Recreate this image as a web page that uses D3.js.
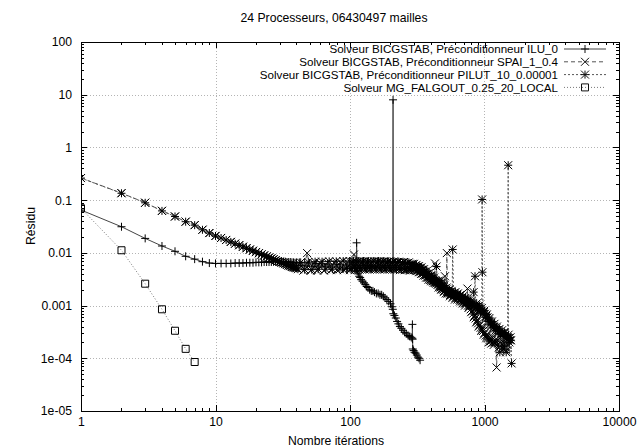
<!DOCTYPE html>
<html><head><meta charset="utf-8">
<script src="https://cdn.jsdelivr.net/npm/d3@7"></script>
<style>
body{margin:0;background:#fff;}
text{font-family:"Liberation Sans",Arial,Helvetica,sans-serif;fill:#000;}
</style>
</head><body>
<svg id="chart" width="643" height="448"></svg>
<script>
// ---------------- DATA ----------------
const chartTitle = "24 Processeurs, 06430497 mailles";
const xAxisTitle = "Nombre itérations";
const yAxisTitle = "Résidu";
const seriesNames = [
  "Solveur BICGSTAB, Préconditionneur ILU_0",
  "Solveur BICGSTAB, Préconditionneur SPAI_1_0.4",
  "Solveur BICGSTAB, Préconditionneur PILUT_10_0.00001",
  "Solveur MG_FALGOUT_0.25_20_LOCAL"
];
const xTickValues = [1, 10, 100, 1000, 10000];
const xTickLabels = ["1", "10", "100", "1000", "10000"];
const yTickValues = [1e-5, 1e-4, 1e-3, 1e-2, 1e-1, 1, 10, 100];
const yTickLabels = ["1e-05", "1e-04", "0.001", "0.01", "0.1", "1", "10", "100"];

// residuals for iterations 1..40 (index + 1 = iteration)
const iluHead = [0.065,0.0313,0.0188,0.0135,0.0107,0.0086,0.0076,0.0068,0.0064,0.0063,
  0.0063,0.0063,0.0063,0.0064,0.0064,0.0064,0.0065,0.0065,0.0065,0.0066,
  0.0066,0.0066,0.0067,0.0067,0.0067,0.0067,0.0068,0.0068,0.0068,0.0068,
  0.0068,0.0068,0.0068,0.0067,0.0067,0.0067,0.0066,0.0066,0.0065,0.0065];
const spaiHead = [0.263,0.136,0.0895,0.0628,0.0489,0.0391,0.0337,0.0275,0.0237,0.021,
  0.0192,0.0176,0.0162,0.015,0.014,0.0131,0.0123,0.0116,0.011,0.0104,
  0.0099,0.0094,0.009,0.0086,0.0082,0.0079,0.0076,0.0073,0.0070,0.0068,
  0.0066,0.0064,0.0062,0.0060,0.0058,0.0057,0.0055,0.0054,0.0053,0.0052];
const pilutHead = [0.262,0.135,0.089,0.0625,0.049,0.039,0.0335,0.0274,0.0238,0.0209,
  0.0191,0.0175,0.0161,0.0149,0.0139,0.013,0.0122,0.0115,0.0109,0.0103,
  0.0098,0.0093,0.0089,0.0085,0.0081,0.0078,0.0075,0.0072,0.0069,0.0067,
  0.0065,0.0063,0.0061,0.0059,0.0057,0.0056,0.0054,0.0053,0.0052,0.0051];

// later iterations: [iteration, residual]
const iluTail = [[42,0.0066],[44,0.0057],[46,0.0065],[48,0.0056],[50,0.0064],[53,0.0055],[56,0.0063],[59,0.0054],
  [62,0.0062],[65,0.0054],[68,0.0061],[72,0.0053],[76,0.0061],[80,0.0053],[84,0.0060],[88,0.0052],[92,0.0059],
  [96,0.0052],[100,0.0058],[104,0.0051],[108,0.0056],[111,0.0050],[112,0.0155],[113,0.0045],[115,0.0040],
  [117,0.0036],[119,0.0034],[121,0.0031],[124,0.0029],[127,0.0027],[130,0.0025],[133,0.0023],[136,0.0022],
  [140,0.0020],[144,0.0019],[148,0.0019],[152,0.0018],[157,0.0017],[162,0.0017],[167,0.0016],[172,0.0016],
  [177,0.0015],[182,0.0014],[188,0.0013],[194,0.0012],[200,0.00108],[205,0.00095],[208,0.00085],[209,8],
  [210,0.0007],[214,0.00065],[219,0.00058],[224,0.0005],[229,0.00045],[235,0.0004],[241,0.00037],[248,0.00034],
  [255,0.00031],[262,0.00029],[270,0.00027],[278,0.00026],[285,0.00025],[290,0.00024],[291,0.00044],[292,0.00023],
  [293,0.00015],[297,0.00014],[302,0.00013],[308,0.000125],[314,0.000115],[320,0.000105],[326,0.0001],[332,0.000092]];

const spaiTail = [[42,0.0062],[45,0.0046],[48,0.0099],[51,0.0046],[54,0.0063],[57,0.0046],[60,0.0064],[64,0.0046],
  [68,0.0065],[72,0.0047],[76,0.0065],[80,0.0047],[85,0.0066],[90,0.0047],[95,0.0066],[100,0.0047],[104,0.0066],
  [107,0.0093],[109,0.0047],[113,0.0067],[118,0.0048],[123,0.0067],[129,0.0048],[134,0.0067],[140,0.0048],
  [146,0.0067],[153,0.0048],[160,0.0067],[167,0.0048],[174,0.0067],[181,0.0048],[189,0.0067],[198,0.0048],
  [206,0.0066],[215,0.0048],[225,0.0066],[235,0.0047],[245,0.0065],[256,0.0047],[267,0.0064],[279,0.0046],
  [291,0.0062],[304,0.0057],[311,0.0045],[317,0.0055],[324,0.0043],[331,0.0052],[338,0.0040],[345,0.0048],
  [352,0.0037],[360,0.0044],[368,0.0034],[376,0.0040],[384,0.0031],[393,0.0036],[401,0.0029],[410,0.0033],
  [419,0.0027],[428,0.0063],[437,0.0026],[447,0.0029],[456,0.0022],[466,0.0026],[476,0.0020],[487,0.0023],
  [497,0.0018],[508,0.0036],[515,0.0017],[520,0.0020],[525,0.0099],[530,0.0017],[541,0.0019],[553,0.0015],
  [565,0.0018],[578,0.0014],[590,0.0017],[603,0.0013],[616,0.0016],[629,0.0013],[643,0.0015],[657,0.0012],
  [671,0.0014],[686,0.0011],[700,0.0013],[716,0.0010],[731,0.0012],[747,0.0021],[760,0.0009],[780,0.0010],
  [797,0.00075],[814,0.0008],[832,0.0006],[850,0.00066],[868,0.00048],[887,0.00054],[906,0.0004],[926,0.00044],
  [946,0.00033],[966,0.00038],[987,0.00028],[1009,0.00031],[1031,0.00024],[1053,0.00028],[1076,0.0002],
  [1099,0.00024],[1123,0.00019],[1147,0.00025],[1172,0.00018],[1197,0.00022],[1230,0.000067],[1250,0.00022],
  [1277,0.00016],[1304,0.0002],[1332,0.00015],[1361,0.00021],[1391,0.00015],[1421,0.00019],[1452,0.00014],[1483,0.00018]];
const spaiFill = [[102,0.0050],[106,0.0063],[111,0.0060],[116,0.0050],[120,0.0064],[126,0.0050],[131,0.0064],
  [137,0.0050],[143,0.0064],[150,0.0050],[156,0.0064],[163,0.0050],[170,0.0064],[178,0.0050],[185,0.0064],
  [194,0.0050],[202,0.0064],[210,0.0050],[220,0.0064],[230,0.0050],[240,0.0063],[250,0.0049],[261,0.0062],
  [273,0.0048],[285,0.0060],[297,0.0047],[307,0.0050],[314,0.0053],[321,0.0047],[328,0.0050],[334,0.0045],
  [341,0.0046],[349,0.0042],[356,0.0042],[364,0.0038],[372,0.0038],[380,0.0034],[388,0.0034],[397,0.0031],
  [405,0.0031],[414,0.0029],[424,0.0029],[432,0.0028],[442,0.0027],[451,0.0025],[461,0.0024],[471,0.0022],
  [481,0.0021],[492,0.0020],[502,0.0019],[535,0.0018],[547,0.0017],[559,0.0016],[571,0.0016],[584,0.0015],
  [596,0.0015],[609,0.0014],[622,0.0014],[636,0.0014],[650,0.0013],[664,0.0013],[678,0.0012],[693,0.0012],
  [708,0.0011],[723,0.0011],[739,0.0011],[753,0.0010],[770,0.00095],[789,0.00085],[805,0.00078],[823,0.0007],
  [841,0.00063],[859,0.00057],[877,0.0005],[896,0.00046],[916,0.00042],[936,0.00038],[956,0.00035],[976,0.00033],
  [998,0.0003],[1020,0.00027],[1042,0.00026],[1064,0.00024],[1087,0.00022],[1111,0.00021],[1135,0.00022],
  [1160,0.0002],[1185,0.0002],[1210,0.0002],[1263,0.00019],[1290,0.00018],[1318,0.00017],[1346,0.00018],
  [1376,0.00017],[1406,0.00017],[1436,0.00016],[1467,0.00016]];

const pilutTail = [[41,0.0049],[43,0.0066],[46,0.0048],[49,0.0067],[52,0.0048],[55,0.0068],[58,0.0049],[62,0.0068],
  [66,0.0049],[70,0.0069],[74,0.0049],[79,0.0069],[84,0.0049],[89,0.0070],[94,0.0050],[99,0.0070],[102,0.0050],
  [106,0.0070],[111,0.0050],[116,0.0070],[121,0.0050],[126,0.0070],[132,0.0050],[137,0.0070],[143,0.0050],
  [150,0.0070],[156,0.0050],[163,0.0070],[171,0.0050],[178,0.0070],[186,0.0050],[194,0.0069],[203,0.0050],
  [212,0.0069],[221,0.0049],[231,0.0068],[241,0.0049],[252,0.0067],[263,0.0048],[274,0.0066],[286,0.0047],
  [299,0.0062],[306,0.0049],[312,0.0059],[319,0.0046],[326,0.0056],[333,0.0043],[340,0.0053],[347,0.0040],
  [355,0.0049],[363,0.0037],[371,0.0045],[379,0.0034],[387,0.0041],[395,0.0031],[404,0.0037],[413,0.0029],
  [422,0.0034],[431,0.0027],[440,0.0055],[450,0.0025],[460,0.0030],[470,0.0023],[480,0.0027],[490,0.0021],
  [501,0.0024],[512,0.0019],[523,0.0022],[534,0.0017],[546,0.0020],[558,0.0016],[570,0.0019],[580,0.0116],
  [595,0.0016],[608,0.0018],[621,0.0015],[634,0.0017],[648,0.0014],[662,0.0016],[677,0.0013],[691,0.0015],
  [706,0.0012],[721,0.0014],[737,0.0012],[753,0.0013],[770,0.0010],[786,0.0012],[803,0.0010],[830,0.0018],
  [850,0.0036],[862,0.0009],[875,0.0011],[894,0.0008],[913,0.0010],[934,0.00075],[955,0.0009],[960,0.103],
  [965,0.0043],[976,0.0007],[997,0.0008],[1019,0.0006],[1041,0.00068],[1064,0.0005],[1087,0.00058],[1111,0.00043],
  [1135,0.0005],[1160,0.00038],[1185,0.00045],[1211,0.00034],[1237,0.0004],[1264,0.0003],[1292,0.00036],
  [1300,0.00013],[1320,0.00028],[1349,0.00034],[1378,0.00026],[1408,0.00031],[1450,0.00013],[1470,0.00024],
  [1500,0.46],[1510,0.00028],[1530,0.0002],[1560,0.00025],[1590,0.00008]];
const pilutFill = [[104,0.0066],[108,0.0053],[113,0.0067],[118,0.0053],[124,0.0067],[129,0.0053],[135,0.0067],
  [140,0.0053],[146,0.0067],[153,0.0053],[160,0.0067],[167,0.0053],[174,0.0067],[182,0.0053],[190,0.0067],
  [198,0.0053],[207,0.0066],[216,0.0053],[226,0.0066],[236,0.0052],[246,0.0065],[257,0.0051],[268,0.0063],
  [280,0.0050],[292,0.0060],[302,0.0055],[309,0.0054],[315,0.0052],[322,0.0051],[329,0.0049],[336,0.0048],
  [343,0.0046],[351,0.0045],[359,0.0043],[367,0.0041],[375,0.0039],[383,0.0037],[391,0.0036],[399,0.0034],
  [408,0.0033],[417,0.0031],[426,0.0030],[435,0.0029],[445,0.0028],[455,0.0027],[465,0.0026],[475,0.0025],
  [485,0.0024],[495,0.0022],[506,0.0021],[517,0.0020],[528,0.0019],[540,0.0018],[552,0.0018],[564,0.0017],
  [575,0.0017],[588,0.0017],[601,0.0016],[614,0.0016],[628,0.0016],[641,0.0015],[655,0.0015],[669,0.0014],
  [684,0.0014],[698,0.0013],[713,0.0013],[729,0.0013],[745,0.0012],[761,0.0012],[778,0.0011],[795,0.0011],
  [812,0.0011],[840,0.0010],[868,0.0010],[884,0.00095],[903,0.0009],[923,0.00085],[944,0.0008],[987,0.00075],
  [1008,0.0007],[1030,0.00064],[1052,0.0006],[1075,0.00054],[1099,0.0005],[1123,0.00047],[1147,0.00043],
  [1172,0.0004],[1198,0.00038],[1224,0.00037],[1250,0.00034],[1278,0.00032],[1335,0.0003],[1363,0.0003],
  [1393,0.00029],[1424,0.00027],[1485,0.00025],[1520,0.00024],[1545,0.00022],[1575,0.00022]];

const mgIter = [1,2,3,4,5,6,7];
const mgVal = [0.07,0.0112,0.0026,0.00085,0.000333,0.000151,0.000085];

// ---------------- CHART ----------------
const plot = {left: 81, right: 619, top: 42, bottom: 411};
const svg = d3.select("#chart");
const x = d3.scaleLog().domain([1, 10000]).range([plot.left, plot.right]);
const y = d3.scaleLog().domain([1e-5, 100]).range([plot.bottom, plot.top]);
const FS = "12.2px";
const LFS = "11.6px";

// grid (dotted)
const gridG = svg.append("g").attr("stroke", "#b4b4b4").attr("stroke-dasharray", "1,2").attr("shape-rendering", "crispEdges");
xTickValues.slice(1, -1).forEach(v => {
  gridG.append("line").attr("x1", Math.round(x(v)) + 0.5).attr("x2", Math.round(x(v)) + 0.5)
    .attr("y1", plot.top).attr("y2", plot.bottom);
});
yTickValues.slice(1, -1).forEach(v => {
  gridG.append("line").attr("y1", Math.round(y(v)) + 0.5).attr("y2", Math.round(y(v)) + 0.5)
    .attr("x1", plot.left).attr("x2", plot.right);
});

function minorVals(dom) {
  const out = [];
  for (let d = dom[0]; d < dom[1]; d *= 10) for (let k = 2; k <= 9; k++) out.push(d * k);
  return out;
}
const axG = svg.append("g").attr("shape-rendering", "crispEdges");
function addAxis(axisGen, tx, ty) {
  const g = axG.append("g").attr("transform", `translate(${tx},${ty})`).call(axisGen);
  g.select(".domain").remove();
  g.selectAll("line").attr("stroke", "#000");
  g.selectAll("text").remove();
}
addAxis(d3.axisBottom(x).tickValues(xTickValues).tickSize(-6).tickFormat(""), 0, plot.bottom);
addAxis(d3.axisBottom(x).tickValues(minorVals([1, 10000])).tickSize(-3).tickFormat(""), 0, plot.bottom);
addAxis(d3.axisTop(x).tickValues(xTickValues).tickSize(-6).tickFormat(""), 0, plot.top);
addAxis(d3.axisTop(x).tickValues(minorVals([1, 10000])).tickSize(-3).tickFormat(""), 0, plot.top);
addAxis(d3.axisLeft(y).tickValues(yTickValues).tickSize(-6).tickFormat(""), plot.left, 0);
addAxis(d3.axisLeft(y).tickValues(minorVals([1e-5, 100])).tickSize(-3).tickFormat(""), plot.left, 0);
addAxis(d3.axisRight(y).tickValues(yTickValues).tickSize(-6).tickFormat(""), plot.right, 0);
addAxis(d3.axisRight(y).tickValues(minorVals([1e-5, 100])).tickSize(-3).tickFormat(""), plot.right, 0);

// tick labels
const xLab = svg.append("g").attr("transform", `translate(0,${plot.bottom})`)
  .call(d3.axisBottom(x).tickValues(xTickValues).tickSize(0).tickPadding(6)
    .tickFormat((d, i) => xTickLabels[i]));
xLab.select(".domain").remove();
xLab.selectAll("text").attr("font-size", FS).attr("font-family", null).attr("fill", "#000");
const yLab = svg.append("g").attr("transform", `translate(${plot.left},0)`)
  .call(d3.axisLeft(y).tickValues(yTickValues).tickSize(0).tickPadding(9)
    .tickFormat((d, i) => yTickLabels[i]));
yLab.select(".domain").remove();
yLab.selectAll("text").attr("font-size", FS).attr("font-family", null).attr("fill", "#000");

// border
svg.append("rect").attr("x", plot.left + 0.5).attr("y", plot.top + 0.5)
  .attr("width", plot.right - plot.left).attr("height", plot.bottom - plot.top)
  .attr("fill", "none").attr("stroke", "#000").attr("shape-rendering", "crispEdges");

// titles
svg.append("text").attr("x", 334).attr("y", 22).attr("text-anchor", "middle").attr("font-size", FS).text(chartTitle);
svg.append("text").attr("x", 336).attr("y", 445).attr("text-anchor", "middle").attr("font-size", FS).text(xAxisTitle);
svg.append("text").attr("transform", "translate(35,226) rotate(-90)").attr("text-anchor", "middle").attr("font-size", FS).text(yAxisTitle);

// markers
const R = 4, RS = 3.5;
const markerPaths = {
  plus: `M${-R},0H${R}M0,${-R}V${R}`,
  cross: `M${-R},${-R}L${R},${R}M${-R},${R}L${R},${-R}`,
  star: `M${-R},0H${R}M0,${-R}V${R}M${-R},${-R}L${R},${R}M${-R},${R}L${R},${-R}`,
  square: `M${-RS},${-RS}H${RS}V${RS}H${-RS}Z`
};
const headPts = arr => arr.map((v, i) => [i + 1, v]);
const byIter = (a, b) => a[0] - b[0];
const series = [
  {name: seriesNames[0], pts: headPts(iluHead).concat(iluTail), dash: null, lineColor: "#444", marker: "plus"},
  {name: seriesNames[1], pts: headPts(spaiHead).concat(spaiTail, spaiFill).sort(byIter), dash: "4,3", lineColor: "#555", marker: "cross"},
  {name: seriesNames[2], pts: headPts(pilutHead).concat(pilutTail, pilutFill).sort(byIter), dash: "2,2", lineColor: "#555", marker: "star"},
  {name: seriesNames[3], pts: mgIter.map((v, i) => [v, mgVal[i]]), dash: "1,2", lineColor: "#777", marker: "square"}
];
const line = d3.line().x(d => x(d[0])).y(d => y(d[1]));
svg.append("clipPath").attr("id", "pc").append("rect")
  .attr("x", plot.left).attr("y", plot.top).attr("width", plot.right - plot.left).attr("height", plot.bottom - plot.top);
const dataG = svg.append("g").attr("clip-path", "url(#pc)");
series.forEach(s => {
  dataG.append("path").datum(s.pts).attr("d", line).attr("fill", "none")
    .attr("stroke", s.lineColor).attr("stroke-width", 1).attr("stroke-dasharray", s.dash);
  dataG.append("g").selectAll("path").data(s.pts).join("path")
    .attr("transform", d => `translate(${x(d[0])},${y(d[1])})`)
    .attr("d", markerPaths[s.marker]).attr("fill", "none").attr("stroke", "#000").attr("stroke-width", 1);
});

// legend
const legRowsY = [49, 61.8, 74.6, 87.4];
series.forEach((s, i) => {
  const ly = legRowsY[i];
  svg.append("text").attr("x", 558).attr("y", ly + 4.1).attr("text-anchor", "end").attr("font-size", LFS).text(s.name);
  svg.append("line").attr("x1", 564).attr("x2", 606).attr("y1", ly).attr("y2", ly)
    .attr("stroke", s.lineColor).attr("stroke-dasharray", s.dash);
  svg.append("path").attr("transform", `translate(585,${ly})`).attr("d", markerPaths[s.marker])
    .attr("fill", "none").attr("stroke", "#111");
});
</script>
</body></html>
